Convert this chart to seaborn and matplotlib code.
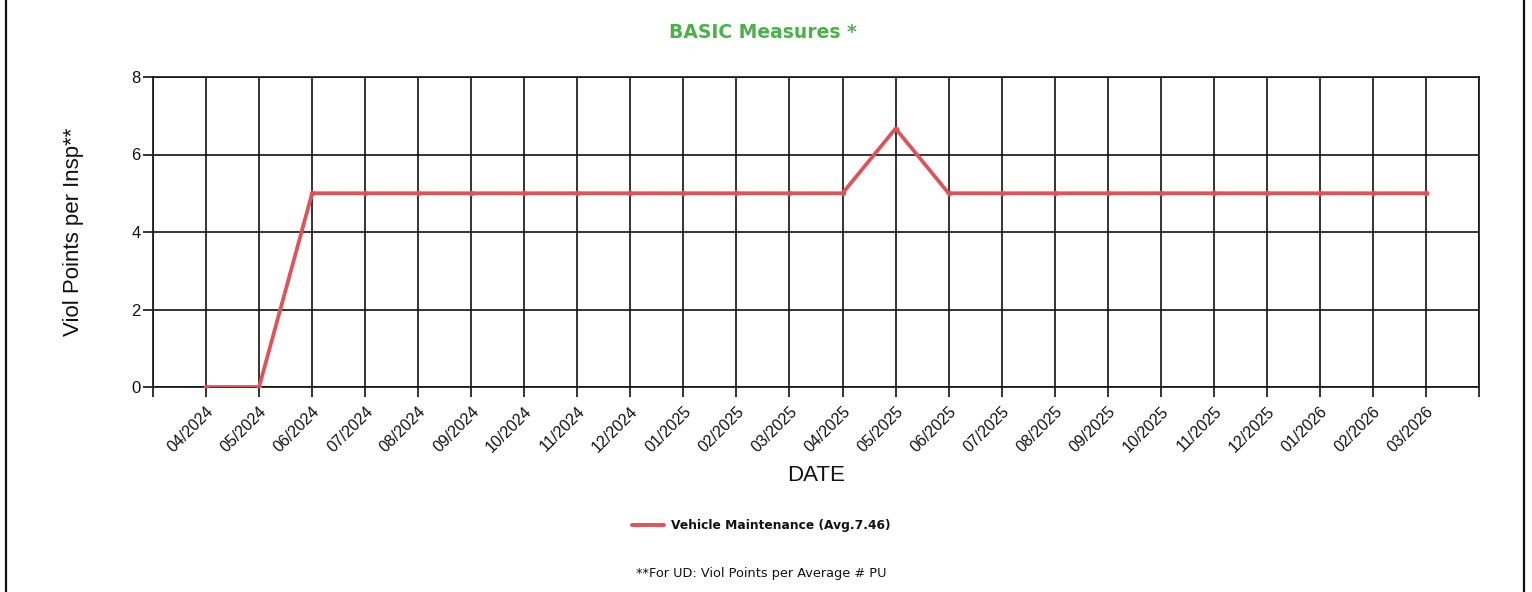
import numpy as np
import pandas as pd
import seaborn as sns
import matplotlib.pyplot as plt
from matplotlib.lines import Line2D

months = ['04/2024', '05/2024', '06/2024', '07/2024', '08/2024', '09/2024',
          '10/2024', '11/2024', '12/2024', '01/2025', '02/2025', '03/2025',
          '04/2025', '05/2025', '06/2025', '07/2025', '08/2025', '09/2025',
          '10/2025', '11/2025', '12/2025', '01/2026', '02/2026', '03/2026']
viol_points = [0, 0, 5, 5, 5, 5, 5, 5, 5, 5, 5, 5,
               5, 6.67, 5, 5, 5, 5, 5, 5, 5, 5, 5, 5]
series_name = 'Vehicle Maintenance (Avg.7.46)'

sns.set_theme(style='white')
plt.rcParams['font.family'] = ['Liberation Sans', 'DejaVu Sans']

df = pd.DataFrame({'idx': range(len(months)), 'value': viol_points, 'series': series_name})

dpi = 100
fig = plt.figure(figsize=(1532 / dpi, 592 / dpi), dpi=dpi)
ax = fig.add_axes([153 / 1532, 1 - 387 / 592, (1479 - 153) / 1532, (387 - 77) / 592])

sns.lineplot(data=df, x='idx', y='value', hue='series', palette=['#e0525a'],
             linewidth=2.7, marker='o', markersize=4, markeredgewidth=0,
             ax=ax, zorder=5)

ax.set_xlim(-1, len(months))
ax.set_ylim(0, 8)
ax.set_yticks([0, 2, 4, 6, 8])
ax.set_xticks(range(-1, len(months) + 1))
ax.set_xticklabels([''] + months + [''], rotation=45, ha='right',
                   rotation_mode='anchor', fontsize=11.5, color='#111111')
ax.tick_params(axis='y', labelsize=12, length=7, width=1.2, color='#111111',
               left=True, pad=2, labelcolor='#111111')
ax.tick_params(axis='x', length=7, width=1.2, color='#111111', bottom=True, pad=5)
ax.grid(True, color='#111111', linewidth=1.2)
for s in ax.spines.values():
    s.set_color('#111111')
    s.set_linewidth(1.2)

ax.set_xlabel('DATE', fontsize=16, labelpad=7, color='#111111')
ax.set_ylabel('Viol Points per Insp**', fontsize=16, labelpad=34, color='#111111')

fig.text(0.498, 1 - 32 / 592, 'BASIC Measures *', ha='center', va='center',
         fontsize=13.5, fontweight='bold', color='#4cb04c', family='DejaVu Sans')

ax.get_legend().remove()
handles = [Line2D([], [], color='#e0525a', linewidth=2.8)]
fig.legend(handles, [series_name], loc='center', bbox_to_anchor=(0.497, 1 - 526 / 592),
           frameon=False, prop={'family': 'DejaVu Sans', 'weight': 'bold', 'size': 8.8},
           handlelength=2.6, handletextpad=0.6, labelcolor='#111111')

fig.text(0.497, 1 - 573 / 592, '**For UD: Viol Points per Average # PU', ha='center',
         va='center', fontsize=9.3, color='#111111', family='DejaVu Sans')

# page border lines on left and right
fig.add_artist(Line2D([5.5 / 1532, 5.5 / 1532], [0, 1], color='#111111', linewidth=1.6))
fig.add_artist(Line2D([1523.5 / 1532, 1523.5 / 1532], [0, 1], color='#111111', linewidth=1.6))

fig.savefig('out.png', dpi=dpi, facecolor='white')
